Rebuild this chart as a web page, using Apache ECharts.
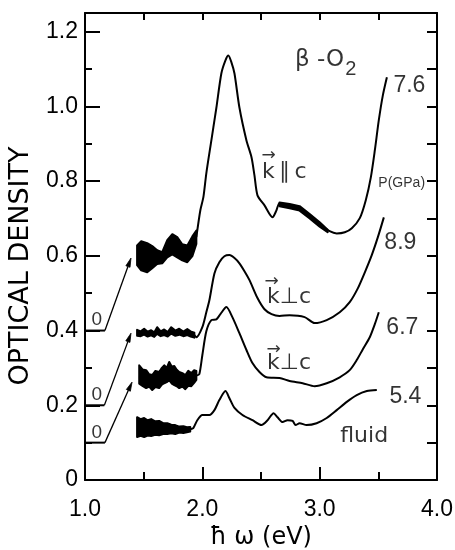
<!DOCTYPE html>
<html><head><meta charset="utf-8">
<script src="https://cdn.jsdelivr.net/npm/echarts@6.0.0/dist/echarts.min.js"></script>
<style>html,body{margin:0;padding:0;background:#fff}#c{width:455px;height:550px}</style>
</head><body><div id="c"></div>
<script>
// ---------- tick labels ----------
const xTickLabels = ['1.0', '2.0', '3.0', '4.0'];
const yTickLabels = ['0', '0.2', '0.4', '0.6', '0.8', '1.0', '1.2'];
const xTitle = 'ħ ω (eV)';
const yTitle = 'OPTICAL DENSITY';

// ---------- 7.6 GPa (k ∥ c) ----------
const x76 = [1.949, 1.983, 2.009, 2.034, 2.077, 2.094, 2.120, 2.162, 2.197, 2.222, 2.248, 2.274, 2.316, 2.376, 2.419, 2.444, 2.470, 2.530, 2.598, 2.632, 2.658, 2.744, 2.829, 2.915, 3.0, 3.085, 3.145, 3.214, 3.274, 3.342, 3.393, 3.436, 3.470, 3.504, 3.538, 3.573];
const y76 = [0.650, 0.722, 0.757, 0.821, 0.909, 0.944, 0.997, 1.088, 1.123, 1.136, 1.118, 1.088, 0.997, 0.909, 0.864, 0.816, 0.762, 0.735, 0.703, 0.722, 0.741, 0.733, 0.727, 0.706, 0.684, 0.666, 0.660, 0.663, 0.674, 0.701, 0.749, 0.810, 0.882, 0.963, 1.029, 1.078];
const noise76X = [1.444, 1.479, 1.530, 1.573, 1.615, 1.658, 1.701, 1.744, 1.786, 1.829, 1.872, 1.915, 1.949];
const noise76Hi = [0.628, 0.639, 0.634, 0.626, 0.615, 0.610, 0.642, 0.658, 0.650, 0.631, 0.628, 0.652, 0.668];
const noise76Lo = [0.575, 0.561, 0.556, 0.567, 0.578, 0.580, 0.596, 0.604, 0.596, 0.588, 0.583, 0.599, 0.632];
const noise76bX = [2.658, 2.744, 2.829, 2.915, 3.0, 3.068];
const noise76bHi = [0.743, 0.739, 0.733, 0.712, 0.690, 0.670];
const noise76bLo = [0.733, 0.727, 0.721, 0.700, 0.678, 0.663];

// ---------- 8.9 GPa (k ⊥ c) ----------
const x89 = [1.932, 1.949, 2.0, 2.034, 2.060, 2.103, 2.145, 2.188, 2.231, 2.274, 2.316, 2.359, 2.402, 2.470, 2.530, 2.590, 2.658, 2.744, 2.872, 2.957, 3.060, 3.171, 3.256, 3.325, 3.385, 3.444, 3.496, 3.547];
const y89 = [0.388, 0.382, 0.409, 0.449, 0.481, 0.553, 0.583, 0.599, 0.602, 0.594, 0.580, 0.559, 0.535, 0.487, 0.457, 0.444, 0.439, 0.441, 0.436, 0.420, 0.428, 0.449, 0.476, 0.513, 0.556, 0.602, 0.650, 0.703];
const noise89X = [1.444, 1.475, 1.504, 1.534, 1.564, 1.590, 1.615, 1.645, 1.675, 1.705, 1.735, 1.770, 1.803, 1.838, 1.872, 1.900, 1.932];
const noise89Hi = [0.402, 0.398, 0.405, 0.397, 0.401, 0.395, 0.409, 0.398, 0.403, 0.396, 0.409, 0.400, 0.405, 0.397, 0.404, 0.398, 0.394];
const noise89Lo = [0.386, 0.385, 0.389, 0.384, 0.387, 0.383, 0.391, 0.385, 0.388, 0.384, 0.392, 0.386, 0.389, 0.385, 0.388, 0.384, 0.381];

// ---------- 6.7 GPa (k ⊥ c) ----------
const x67 = [1.949, 1.974, 2.0, 2.034, 2.077, 2.120, 2.154, 2.205, 2.256, 2.316, 2.376, 2.427, 2.487, 2.547, 2.658, 2.744, 2.855, 2.957, 3.060, 3.171, 3.256, 3.316, 3.368, 3.427, 3.470, 3.504];
const y67 = [0.280, 0.283, 0.334, 0.398, 0.428, 0.430, 0.444, 0.463, 0.436, 0.393, 0.348, 0.313, 0.289, 0.275, 0.273, 0.265, 0.259, 0.251, 0.259, 0.275, 0.294, 0.321, 0.350, 0.382, 0.417, 0.449];
const noise67X = [1.462, 1.490, 1.521, 1.547, 1.573, 1.600, 1.632, 1.655, 1.675, 1.697, 1.718, 1.740, 1.761, 1.782, 1.803, 1.830, 1.855, 1.880, 1.906, 1.930, 1.949];
const noise67Hi = [0.307, 0.296, 0.294, 0.283, 0.281, 0.292, 0.289, 0.300, 0.307, 0.300, 0.316, 0.303, 0.305, 0.295, 0.289, 0.286, 0.281, 0.292, 0.286, 0.294, 0.292];
const noise67Lo = [0.258, 0.252, 0.246, 0.250, 0.241, 0.249, 0.246, 0.255, 0.259, 0.262, 0.267, 0.258, 0.254, 0.251, 0.246, 0.250, 0.243, 0.252, 0.251, 0.260, 0.268];

// ---------- 5.4 GPa fluid ----------
const x54 = [1.897, 1.923, 1.957, 2.0, 2.060, 2.103, 2.145, 2.197, 2.231, 2.274, 2.342, 2.427, 2.504, 2.556, 2.607, 2.641, 2.684, 2.726, 2.769, 2.795, 2.829, 2.889, 2.974, 3.060, 3.145, 3.231, 3.316, 3.402, 3.487];
const y54 = [0.136, 0.139, 0.160, 0.174, 0.174, 0.187, 0.214, 0.238, 0.219, 0.193, 0.174, 0.160, 0.147, 0.160, 0.179, 0.168, 0.155, 0.160, 0.158, 0.147, 0.152, 0.147, 0.152, 0.166, 0.187, 0.209, 0.227, 0.238, 0.241];
const noise54X = [1.444, 1.474, 1.504, 1.534, 1.564, 1.598, 1.632, 1.666, 1.701, 1.735, 1.769, 1.804, 1.838, 1.868, 1.897];
const noise54Hi = [0.168, 0.163, 0.166, 0.160, 0.163, 0.157, 0.158, 0.152, 0.152, 0.148, 0.147, 0.143, 0.144, 0.141, 0.142];
const noise54Lo = [0.115, 0.118, 0.115, 0.119, 0.118, 0.121, 0.120, 0.123, 0.123, 0.125, 0.123, 0.127, 0.126, 0.128, 0.130];

// ---------- zero-offset markers ----------
const offsetBase = [0.4, 0.2, 0.1];
const offsetKneeX = [1.17, 1.165, 1.17];
const arrowTipX = [1.392, 1.392, 1.401];
const arrowTipY = [0.594, 0.393, 0.262];

// ---------- annotation texts ----------
const labelTexts = ['β -O', '2', '7.6', 'P(GPa)', '8.9', '6.7', '5.4', 'fluid', '→', 'k\u2009∥\u2009c', '→', 'k⊥c', '→', 'k⊥c', '0', '0', '0'];
const labelX = [2.786, 3.214, 3.624, 3.496, 3.547, 3.564, 3.590, 3.171, 2.500, 2.504, 2.526, 2.547, 2.543, 2.547, 1.051, 1.051, 1.051];
const labelY = [1.123, 1.100, 1.056, 0.794, 0.636, 0.409, 0.222, 0.118, 0.868, 0.824, 0.531, 0.489, 0.350, 0.313, 0.428, 0.227, 0.126];
const labelKind = ['title', 'sub', 'num', 'unit', 'num', 'num', 'num', 'word', 'arrow', 'k', 'arrow', 'k', 'arrow', 'k', 'zero', 'zero', 'zero'];

// ---------- styling ----------
const BLACK = '#000';
const LIB = "'Liberation Sans',sans-serif";
const SANS = "'DejaVu Sans',sans-serif";
const kindStyle = {
  title: {fontSize: 23, fontFamily: SANS},
  sub: {fontSize: 20, fontFamily: LIB},
  num: {fontSize: 23, fontFamily: LIB},
  unit: {fontSize: 14, fontFamily: LIB},
  word: {fontSize: 22, fontFamily: SANS},
  arrow: {fontSize: 17, fontFamily: SANS},
  k: {fontSize: 22, fontFamily: SANS},
  zero: {fontSize: 19, fontFamily: LIB}
};
const ARROW_LEN = 9, ARROW_HALF = 2.2;

const zip = (xs, ys) => xs.map((x, i) => [x, ys[i]]);

function curve(xs, ys) {
  return {type: 'line', data: zip(xs, ys), symbol: 'none', smooth: 0.25, z: 3,
    lineStyle: {color: BLACK, width: 2}, silent: true};
}
function band(xs, hi, lo) {
  return {type: 'custom', data: [[xs[0], lo[0]]], z: 3, silent: true,
    renderItem: function (params, api) {
      const top = xs.map((x, i) => api.coord([x, hi[i]]));
      const bot = xs.map((x, i) => api.coord([x, lo[i]])).reverse();
      return {type: 'polygon', shape: {points: top.concat(bot)},
        style: {fill: BLACK, stroke: BLACK, lineWidth: 2, lineJoin: 'round'}};
    }};
}

// baseline "0" segments plus arrows pointing to each curve's start
const offsetSeries = {
  type: 'custom', silent: true, z: 4,
  encode: {x: [0, 2, 3], y: [1, 4]},
  data: offsetBase.map((b, i) => [1.0, b, offsetKneeX[i], arrowTipX[i], arrowTipY[i]]),
  renderItem: function (params, api) {
    const p0 = api.coord([api.value(0), api.value(1)]);
    const p1 = api.coord([api.value(2), api.value(1)]);
    const p2 = api.coord([api.value(3), api.value(4)]);
    const dx = p2[0] - p1[0], dy = p2[1] - p1[1];
    const len = Math.sqrt(dx * dx + dy * dy);
    const ux = dx / len, uy = dy / len;
    const bx = p2[0] - ux * ARROW_LEN, by = p2[1] - uy * ARROW_LEN;
    return {type: 'group', children: [
      {type: 'polyline', shape: {points: [p0, p1]}, style: {stroke: BLACK, lineWidth: 2, fill: null}},
      {type: 'polyline', shape: {points: [p1, [bx, by]]}, style: {stroke: BLACK, lineWidth: 1.3, fill: null}},
      {type: 'polygon', shape: {points: [p2, [bx - uy * ARROW_HALF, by + ux * ARROW_HALF], [bx + uy * ARROW_HALF, by - ux * ARROW_HALF]]},
        style: {fill: BLACK, stroke: BLACK, lineWidth: 0.8}}
    ]};
  }
};

const labelSeries = {
  type: 'scatter', symbolSize: 1, silent: true, z: 5,
  itemStyle: {color: 'transparent'},
  data: labelTexts.map((t, i) => ({
    value: [labelX[i], labelY[i]],
    label: Object.assign({show: true, position: 'right', distance: 0, color: BLACK,
      formatter: t}, kindStyle[labelKind[i]])
  }))
};

const axisLine = {show: true, onZero: false, lineStyle: {color: BLACK, width: 2}};
const tickStyle = {color: BLACK, width: 2};

const chart = echarts.init(document.getElementById('c'), null, {renderer: 'canvas'});
chart.setOption({
  animation: false,
  backgroundColor: '#fff',
  grid: {left: 85, right: 18, top: 13, bottom: 70, containLabel: false, outerBoundsMode: 'none'},
  xAxis: [
    {type: 'value', position: 'bottom', min: 1, max: 4, interval: 1,
      axisLine: axisLine, axisTick: {inside: true, length: 13, lineStyle: tickStyle},
      axisLabel: {color: BLACK, fontSize: 23, fontFamily: LIB, margin: 18,
        formatter: v => xTickLabels[Math.round(v - 1)]},
      splitLine: {show: false},
      name: xTitle, nameLocation: 'middle', nameGap: 45,
      nameTextStyle: {color: BLACK, fontSize: 24, fontFamily: SANS}},
    {type: 'value', position: 'bottom', min: 1, max: 4, interval: 0.5,
      axisLine: {show: false, onZero: false}, axisTick: {inside: true, length: 8, lineStyle: tickStyle},
      axisLabel: {show: false}, splitLine: {show: false}},
    {type: 'value', position: 'top', min: 1, max: 4, interval: 0.5,
      axisLine: axisLine, axisTick: {inside: true, length: 7, lineStyle: tickStyle},
      axisLabel: {show: false}, splitLine: {show: false}}
  ],
  yAxis: [
    {type: 'value', position: 'left', min: 0, max: 1.25, interval: 0.2,
      axisLine: axisLine, axisTick: {inside: true, length: 15, lineStyle: tickStyle},
      axisLabel: {color: BLACK, fontSize: 23, fontFamily: LIB, margin: 7, showMaxLabel: false,
        formatter: v => { const k = Math.round(v / 0.2); return Math.abs(v - k * 0.2) < 1e-6 ? (yTickLabels[k] || '') : ''; }},
      splitLine: {show: false}},
    {type: 'value', position: 'left', min: 0, max: 1.25, interval: 0.1,
      axisLine: {show: false, onZero: false}, axisTick: {inside: true, length: 7, lineStyle: tickStyle},
      axisLabel: {show: false}, splitLine: {show: false}},
    {type: 'value', position: 'right', min: 0, max: 1.25, interval: 0.1,
      axisLine: axisLine, axisTick: {inside: true, length: 10, lineStyle: tickStyle},
      axisLabel: {show: false}, splitLine: {show: false}}
  ],
  graphic: [{type: 'text', x: 21, y: 266, rotation: Math.PI / 2,
    style: {text: yTitle, fill: BLACK, font: "27px 'DejaVu Sans',sans-serif", align: 'center', verticalAlign: 'middle'}}],
  series: [
    curve(x76, y76), band(noise76X, noise76Hi, noise76Lo), band(noise76bX, noise76bHi, noise76bLo),
    curve(x89, y89), band(noise89X, noise89Hi, noise89Lo),
    curve(x67, y67), band(noise67X, noise67Hi, noise67Lo),
    curve(x54, y54), band(noise54X, noise54Hi, noise54Lo),
    offsetSeries,
    labelSeries
  ]
});
</script>
</body></html>
